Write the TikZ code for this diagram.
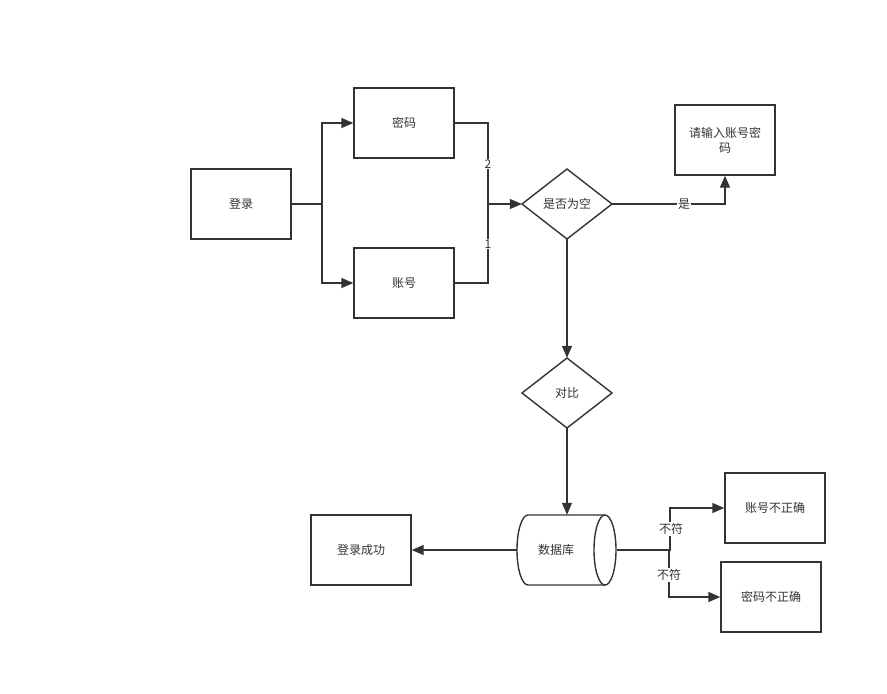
\documentclass[tikz,border=0pt]{standalone}
\usepackage{fontspec}
\setmainfont{Noto Sans CJK SC}
\usetikzlibrary{arrows.meta}
\definecolor{ink}{HTML}{333333}
\tikzset{
  box/.style={draw=ink, line width=1.4pt, minimum width=100pt, minimum height=70pt, inner sep=0pt, text=ink, font=\fontsize{12pt}{15pt}\selectfont, align=center},
  dia/.style={draw=ink, line width=1.4pt, inner sep=0pt, text=ink, font=\fontsize{12pt}{15pt}\selectfont},
  conn/.style={draw=ink, line width=1.4pt, -{Triangle[length=12pt,width=10pt]}},
  plain/.style={draw=ink, line width=1.4pt},
  lbl/.style={fill=white, inner sep=1pt, text=ink, font=\fontsize{12pt}{14pt}\selectfont}
}
\begin{document}
\begin{tikzpicture}[x=1pt,y=-1pt]
\useasboundingbox (0,0) rectangle (887,694);
\fill[white] (0,0) rectangle (887,694);
% nodes
\node[box] (login) at (241,204) {登录};
\node[box] (pwd) at (404,123) {密码};
\node[box] (acc) at (404,283) {账号};
\node[box] (prompt) at (725,140) {请输入账号密\\码};
\node[box] (ok) at (361,550) {登录成功};
\node[box] (accbad) at (775,508) {账号不正确};
\node[box] (pwdbad) at (771,597) {密码不正确};
% diamonds
\draw[dia] (522,204) -- (567,169) -- (612,204) -- (567,239) -- cycle;
\node[text=ink, font=\fontsize{12pt}{15pt}\selectfont, minimum width=90pt, minimum height=70pt, inner sep=0pt] (empty) at (567,204) {是否为空};
\draw[dia] (522,393) -- (567,358) -- (612,393) -- (567,428) -- cycle;
\node[text=ink, font=\fontsize{12pt}{15pt}\selectfont, minimum width=90pt, minimum height=70pt, inner sep=0pt] (cmp) at (567,393) {对比};
% cylinder
\node[text=ink, font=\fontsize{12pt}{15pt}\selectfont, inner sep=0pt] (dbtext) at (556,550) {数据库};
\node[minimum width=99pt, minimum height=70pt, inner sep=0pt] (db) at (567,550) {};
\draw[plain] (605,515) -- (528,515) arc[start angle=270, end angle=90, x radius=11, y radius=35] -- (605,585);
\draw[plain] (605,550) ellipse[x radius=11, y radius=35];
% connectors
\draw[conn] (login.east) -- (322,204) |- (pwd.west);
\draw[conn] (login.east) -- (322,204) |- (acc.west);
\draw[plain] (pwd.east) -| (488,204);
\draw[plain] (acc.east) -| (488,204);
\draw[conn] (488,204) -- (empty.west);
\node[lbl] (l2) at (488,164) {2};
\node[lbl] (l1) at (488,244) {1};
\draw[conn] (empty.east) -| (prompt.south);
\node[lbl] (lyes) at (684,204) {是};
\draw[conn] (empty.south) -- (cmp.north);
\draw[conn] (cmp.south) -- (db.north);
\draw[conn] (db.west) -- (ok.east);
\draw[conn] (db.east) -- (670,550) |- (accbad.west);
\draw[conn] (db.east) -- (669,550) |- (pwdbad.west);
\node[lbl] (lno1) at (671,529) {不符};
\node[lbl] (lno2) at (669,575) {不符};
\end{tikzpicture}
\end{document}
